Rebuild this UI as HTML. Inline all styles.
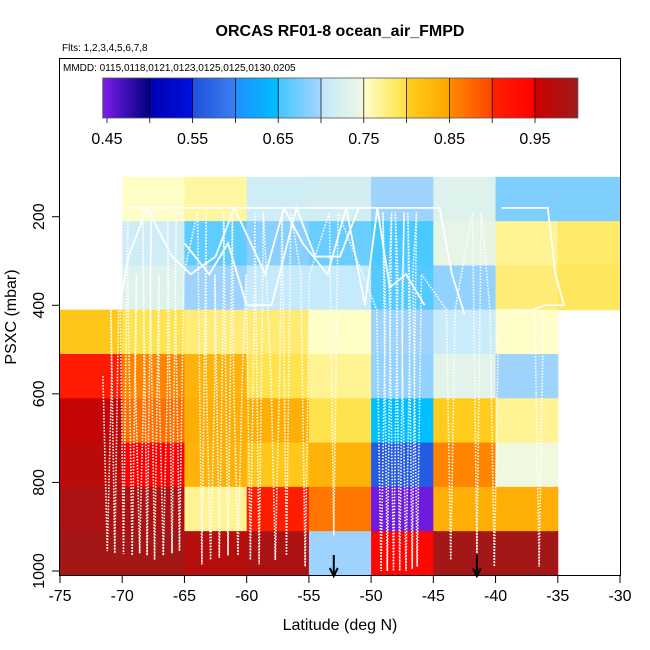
<!DOCTYPE html>
<html><head><meta charset="utf-8"><style>
html,body{margin:0;padding:0;background:#fff;width:650px;height:650px;overflow:hidden}
svg{display:block;font-family:"Liberation Sans",Arial,sans-serif}
</style></head><body>
<svg id="chart" width="650" height="650" xmlns="http://www.w3.org/2000/svg">
<text x="340" y="36" text-anchor="middle" font-size="16" font-weight="bold">ORCAS RF01-8 ocean_air_FMPD</text>
<text x="62" y="51" font-size="10">Flts: 1,2,3,4,5,6,7,8</text>
<text x="63" y="71" font-size="10">MMDD: 0115,0118,0121,0123,0125,0125,0130,0205</text>
<g id="heat"></g>
<g id="tracks"></g>
<g id="cbar"></g>
<rect x="59.5" y="58.5" width="561" height="517" fill="none" stroke="#000" stroke-width="1"/>
<g id="axes"></g>
<text x="340" y="630" text-anchor="middle" font-size="16">Latitude (deg N)</text>
<text transform="translate(16,317) rotate(-90)" text-anchor="middle" font-size="16">PSXC (mbar)</text>
</svg>
<script>
const latBins = [-75,-70,-65,-60,-55,-50,-45,-40,-35,-30];
const presBins = [110,210,310,410,510,610,710,810,910,1010];
// rows top->bottom, columns -75..-30; null = no data
const cellValues = [
 [null,0.752,0.765,0.715,0.72,0.695,0.73,0.68,0.68],
 [null,0.715,0.665,0.685,0.67,0.655,0.74,0.77,0.785],
 [null,0.73,0.695,0.705,0.705,0.66,0.69,0.78,0.79],
 [0.81,0.795,0.78,0.782,0.752,0.695,0.71,0.751,null],
 [0.91,0.855,0.835,0.795,0.77,0.69,0.735,0.695,null],
 [0.96,0.87,0.84,0.84,0.795,0.65,0.805,0.77,null],
 [0.97,0.95,0.835,0.81,0.835,0.56,0.855,0.75,null],
 [0.985,0.985,0.77,0.905,0.865,0.45,0.84,0.84,null],
 [0.995,0.995,0.975,0.985,0.695,0.94,0.995,0.995,null]
];
const cbTicks = [0.45,0.55,0.65,0.75,0.85,0.95];
const xTicks = [-75,-70,-65,-60,-55,-50,-45,-40,-35,-30];
const yTicks = [200,400,600,800,1000];
const profLat = [-71.2,-70.6,-69.9,-69.2,-68.6,-68,-67.4,-66.7,-66,-65.4,-63.6,-62.9,-62.2,-61.5,-60.7,-59.7,-59,-57.7,-56.8,-55.3,-53,-49.2,-48.7,-48.2,-47.7,-47.2,-46.7,-46.3,-43.6,-41.5,-40.1,-36.5];
const profTop = [560,330,190,330,560,190,330,560,190,330,190,560,330,190,560,330,190,560,190,330,190,410,190,330,190,410,190,330,410,190,410,410];
const profBot = [955,960,962,965,960,965,975,965,960,955,985,975,970,965,965,975,985,975,965,990,920,1000,1000,1000,1000,1000,995,990,975,960,990,990];
const arrowLat = [-53,-41.5];
const cbMin = 0.445, cbMax = 1.0;

const NS="http://www.w3.org/2000/svg";
const X0=60,X1=620;
function xs(lat){return X0+(lat+75)/45*(X1-X0);}
function ys(p){return 216.7+(p-200)*(571-216.7)/800;}
const stops=[[0.445,'#7a1ee8'],[0.5,'#000080'],[0.5001,'#0000b0'],[0.55,'#0010e0'],[0.5501,'#2050e0'],[0.6,'#3a80f0'],[0.6001,'#1e90ff'],[0.65,'#00bfff'],[0.6501,'#40c8ff'],[0.7,'#a8d4fe'],[0.7001,'#c0e8ff'],[0.75,'#f0f8e0'],[0.7501,'#ffffcc'],[0.8,'#ffe040'],[0.8001,'#ffd020'],[0.85,'#ffa500'],[0.8501,'#ff8c00'],[0.9,'#ff4500'],[0.9001,'#ff2000'],[0.95,'#ff0000'],[0.9501,'#cc0000'],[1.0,'#a01a1a']];
function hex(c){return [1,3,5].map(i=>parseInt(c.substr(i,2),16));}
function col(v){
  v=Math.max(cbMin,Math.min(cbMax,v));
  for(let i=0;i<stops.length-1;i++){const a=stops[i],b=stops[i+1];
    if(v>=a[0]&&v<=b[0]){const t=(v-a[0])/(b[0]-a[0]||1);const ca=hex(a[1]),cb=hex(b[1]);
      return 'rgb('+ca.map((c,k)=>Math.round(c+(cb[k]-c)*t)).join(',')+')';}}
  return stops[stops.length-1][1];
}
function mk(tag,attrs,parent){const e=document.createElementNS(NS,tag);for(const k in attrs)e.setAttribute(k,attrs[k]);parent.appendChild(e);return e;}

const heat=document.getElementById('heat');
cellValues.forEach((row,r)=>row.forEach((v,c)=>{
  if(v===null)return;
  const x=xs(latBins[c]),w=xs(latBins[c+1])-x,y=ys(presBins[r]),h=ys(presBins[r+1])-y;
  const e=mk('rect',{x:x,y:y,width:w+0.5,height:h+0.5,fill:col(v)},heat);
  
  
}));

// tracks
const tr=document.getElementById('tracks');
let pts=[];
profLat.forEach((lat,i)=>{
  pts.push([lat-0.35,profTop[i]],[lat,profBot[i]],[lat+0.35,profTop[i]]);
});
const dots=mk('polyline',{points:pts.map(p=>xs(p[0])+','+ys(p[1])).join(' '),fill:'none',stroke:'#fff','stroke-width':1.6,'stroke-dasharray':'1.5,1.5'},tr);


const solid=[[[-69.5,180],[-44.5,180],[-43.5,330],[-42.5,420]],[[-39.5,180],[-35.8,180],[-35.2,330],[-34.5,400],[-36,400],[-37,410]],[[-70.2,400],[-69.5,290],[-68,180],[-66,290],[-64.5,330],[-62.5,290],[-61,180],[-58.5,330],[-57,180],[-55.5,260],[-53.5,330],[-52,180],[-50.5,400],[-49.5,180],[-48.5,360],[-47.2,330],[-45.7,400]],[[-65,260],[-63,330],[-61.5,260],[-60,400],[-58,400],[-56,180],[-54.5,290],[-52.5,290],[-51,180]]];
solid.forEach(s=>{
  const e=mk('polyline',{points:s.map(p=>xs(p[0])+','+ys(p[1])).join(' '),fill:'none',stroke:'#fff','stroke-width':1.8},tr);
  
  
});
arrowLat.forEach(lat=>{
  const x=xs(lat);
  const g=mk('g',{},tr);
  
  
  mk('line',{x1:x,y1:555,x2:x,y2:575,stroke:'#000','stroke-width':2},g);
  mk('polyline',{points:(x-4)+',568 '+x+',576 '+(x+4)+',568',fill:'none',stroke:'#000','stroke-width':2},g);
});

// colorbar
const cb=document.getElementById('cbar');
const cbx=(v)=>107+(v-0.45)/0.1*85.6;
const L=cbx(cbMin),R=cbx(cbMax);
for(let i=0;i<200;i++){
  const v=cbMin+(cbMax-cbMin)*(i+0.5)/200;
  mk('rect',{x:L+(R-L)*i/200,y:78,width:(R-L)/200+0.4,height:40,fill:col(v)},cb);
}
for(let v=0.5;v<0.99;v+=0.05){mk('line',{x1:cbx(v),y1:78,x2:cbx(v),y2:118,stroke:'#000','stroke-width':0.7},cb);}
mk('rect',{x:L,y:78,width:R-L,height:40,fill:'none',stroke:'#555','stroke-width':0.8},cb);
for(let v=0.45;v<1.0;v+=0.05){mk('line',{x1:cbx(v),y1:118,x2:cbx(v),y2:123,stroke:'#000','stroke-width':0.8},cb);}
cbTicks.forEach(v=>{
  const t=mk('text',{x:cbx(v),y:144,'text-anchor':'middle','font-size':16},cb);
  t.textContent=v.toFixed(2);
  
  
});

// axes
const ax=document.getElementById('axes');
xTicks.forEach(v=>{
  const x=xs(v);
  mk('line',{x1:x,y1:576,x2:x,y2:583,stroke:'#000'},ax);
  const t=mk('text',{x:x,y:601,'text-anchor':'middle','font-size':16},ax);
  t.textContent=v;
  
  
});
yTicks.forEach(v=>{
  const y=ys(v);
  mk('line',{x1:52,y1:y,x2:60,y2:y,stroke:'#000'},ax);
  const t=mk('text',{transform:'translate(44,'+y+') rotate(-90)','text-anchor':'middle','font-size':16},ax);
  t.textContent=v;
  
  
});
</script>
</body></html>
